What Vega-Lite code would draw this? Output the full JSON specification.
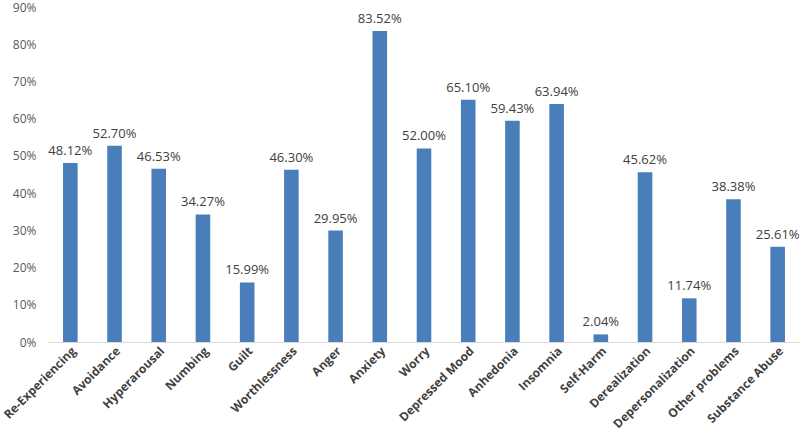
{
  "$schema": "https://vega.github.io/schema/vega-lite/v6.json",
  "width": 752,
  "height": 335,
  "autosize": {"type": "none"},
  "padding": {"left": 48, "top": 7, "right": 0, "bottom": 96},
  "background": "white",
  "config": {"view": {"stroke": null}, "font": "Open Sans"},
  "data": {"values": [
    {"category": "Re-Experiencing", "value": 0.4812},
    {"category": "Avoidance", "value": 0.5270},
    {"category": "Hyperarousal", "value": 0.4653},
    {"category": "Numbing", "value": 0.3427},
    {"category": "Guilt", "value": 0.1599},
    {"category": "Worthlessness", "value": 0.4630},
    {"category": "Anger", "value": 0.2995},
    {"category": "Anxiety", "value": 0.8352},
    {"category": "Worry", "value": 0.5200},
    {"category": "Depressed Mood", "value": 0.6510},
    {"category": "Anhedonia", "value": 0.5943},
    {"category": "Insomnia", "value": 0.6394},
    {"category": "Self-Harm", "value": 0.0204},
    {"category": "Derealization", "value": 0.4562},
    {"category": "Depersonalization", "value": 0.1174},
    {"category": "Other problems", "value": 0.3838},
    {"category": "Substance Abuse", "value": 0.2561}
  ]},
  "encoding": {
    "x": {"field": "category", "type": "nominal", "sort": null,
      "scale": {"paddingInner": 0.67, "paddingOuter": 0.34},
      "axis": {"title": null, "labelAngle": -45, "labelAlign": "right", "labelBaseline": "top",
        "labelFontWeight": "bold", "labelFontSize": 12, "labelColor": "#404040",
        "ticks": false, "domainColor": "#d9d9d9", "labelPadding": 3, "labelOverlap": false}},
    "y": {"field": "value", "type": "quantitative",
      "scale": {"domain": [0, 0.9]},
      "axis": {"title": null, "format": ".0%", "values": [0,0.1,0.2,0.3,0.4,0.5,0.6,0.7,0.8,0.9],
        "labelOverlap": false, "labelFlush": false,
        "grid": false, "domain": false, "ticks": false, "labelFontSize": 12, "labelColor": "#595959", "labelPadding": 12}}
  },
  "layer": [
    {"mark": {"type": "bar", "color": "#4a7ebb"}},
    {"mark": {"type": "text", "dy": -12, "fontSize": 13, "color": "#404040"},
     "encoding": {"text": {"field": "value", "type": "quantitative", "format": ".2%"}}}
  ]
}
